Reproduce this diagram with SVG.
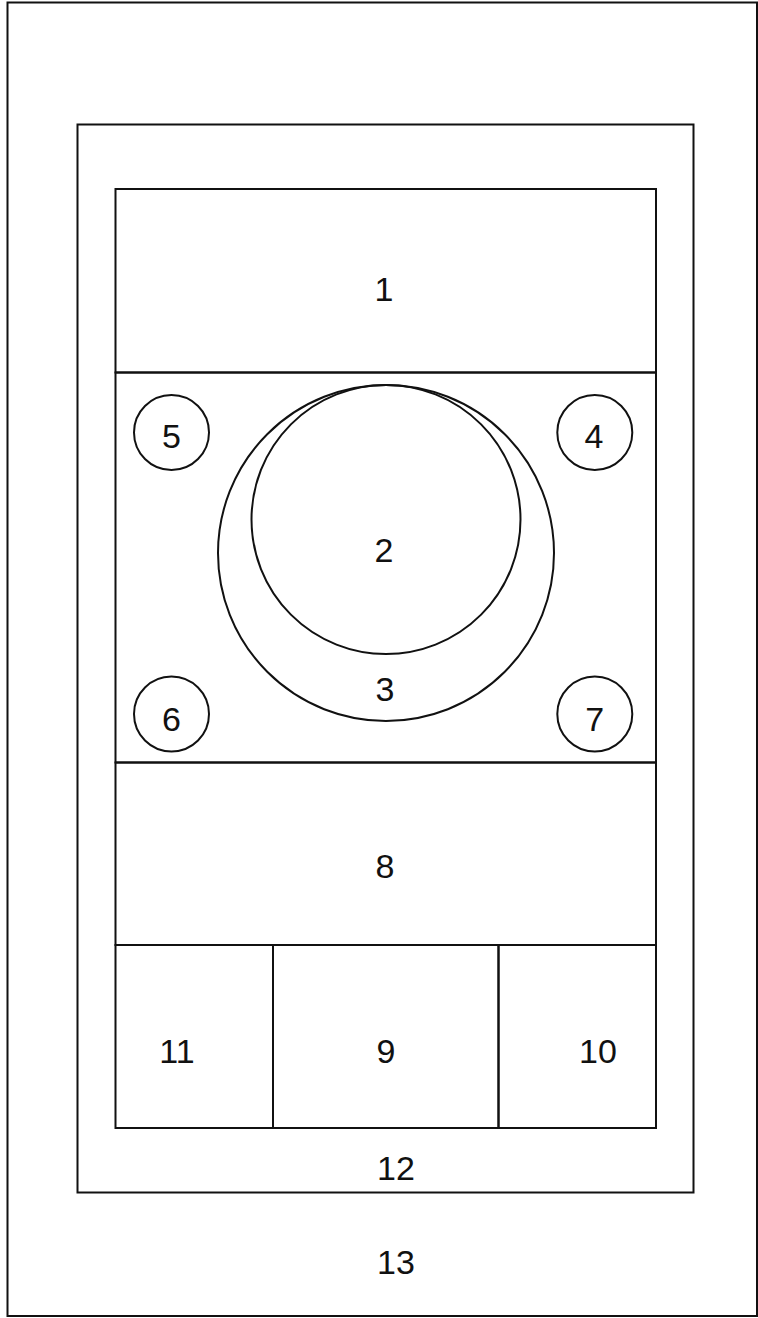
<svg xmlns="http://www.w3.org/2000/svg" width="758" height="1318" viewBox="0 0 758 1318">
<style>
.s{fill:none;stroke:#111;stroke-width:2}
.t{font-family:"Liberation Sans",Arial,sans-serif;font-size:34px;fill:#111;text-anchor:middle}
</style>
<rect width="758" height="1318" fill="#fff"/>
<g id="n13"><rect class="s" x="7.5" y="2.5" width="749.5" height="1313.5"/><text class="t" x="396" y="1274">13</text></g>
<g id="n12"><rect class="s" x="77.5" y="124.5" width="616" height="1068"/><text class="t" x="396" y="1180">12</text></g>
<g id="n1"><rect class="s" x="115.5" y="189" width="540.5" height="183.5"/><text class="t" x="384" y="301">1</text></g>
<g id="panel"><rect class="s" x="115.5" y="372.5" width="540.5" height="390"/></g>
<g id="n3"><circle class="s" cx="386" cy="553" r="168"/><text class="t" x="385" y="700.5">3</text></g>
<g id="n2"><circle class="s" cx="386" cy="519.5" r="134.5"/><text class="t" x="384" y="562">2</text></g>
<g id="n5"><circle class="s" cx="171.5" cy="432.5" r="37.5"/><text class="t" x="171.5" y="448">5</text></g>
<g id="n4"><circle class="s" cx="594.8" cy="432.5" r="37.5"/><text class="t" x="594" y="448">4</text></g>
<g id="n6"><circle class="s" cx="171.5" cy="714" r="37.5"/><text class="t" x="171.5" y="731">6</text></g>
<g id="n7"><circle class="s" cx="594.8" cy="714" r="37.5"/><text class="t" x="594.8" y="731">7</text></g>
<g id="n8"><rect class="s" x="115.5" y="762.5" width="540.5" height="182.5"/><text class="t" x="385" y="878">8</text></g>
<g id="n11"><rect class="s" x="115.5" y="945" width="157.5" height="183"/><text class="t" x="177" y="1063">11</text></g>
<g id="n9"><rect class="s" x="273" y="945" width="225.5" height="183"/><text class="t" x="386" y="1063">9</text></g>
<g id="n10"><rect class="s" x="498.5" y="945" width="157.5" height="183"/><text class="t" x="598" y="1063">10</text></g>
<g id="connectors"></g>
</svg>
